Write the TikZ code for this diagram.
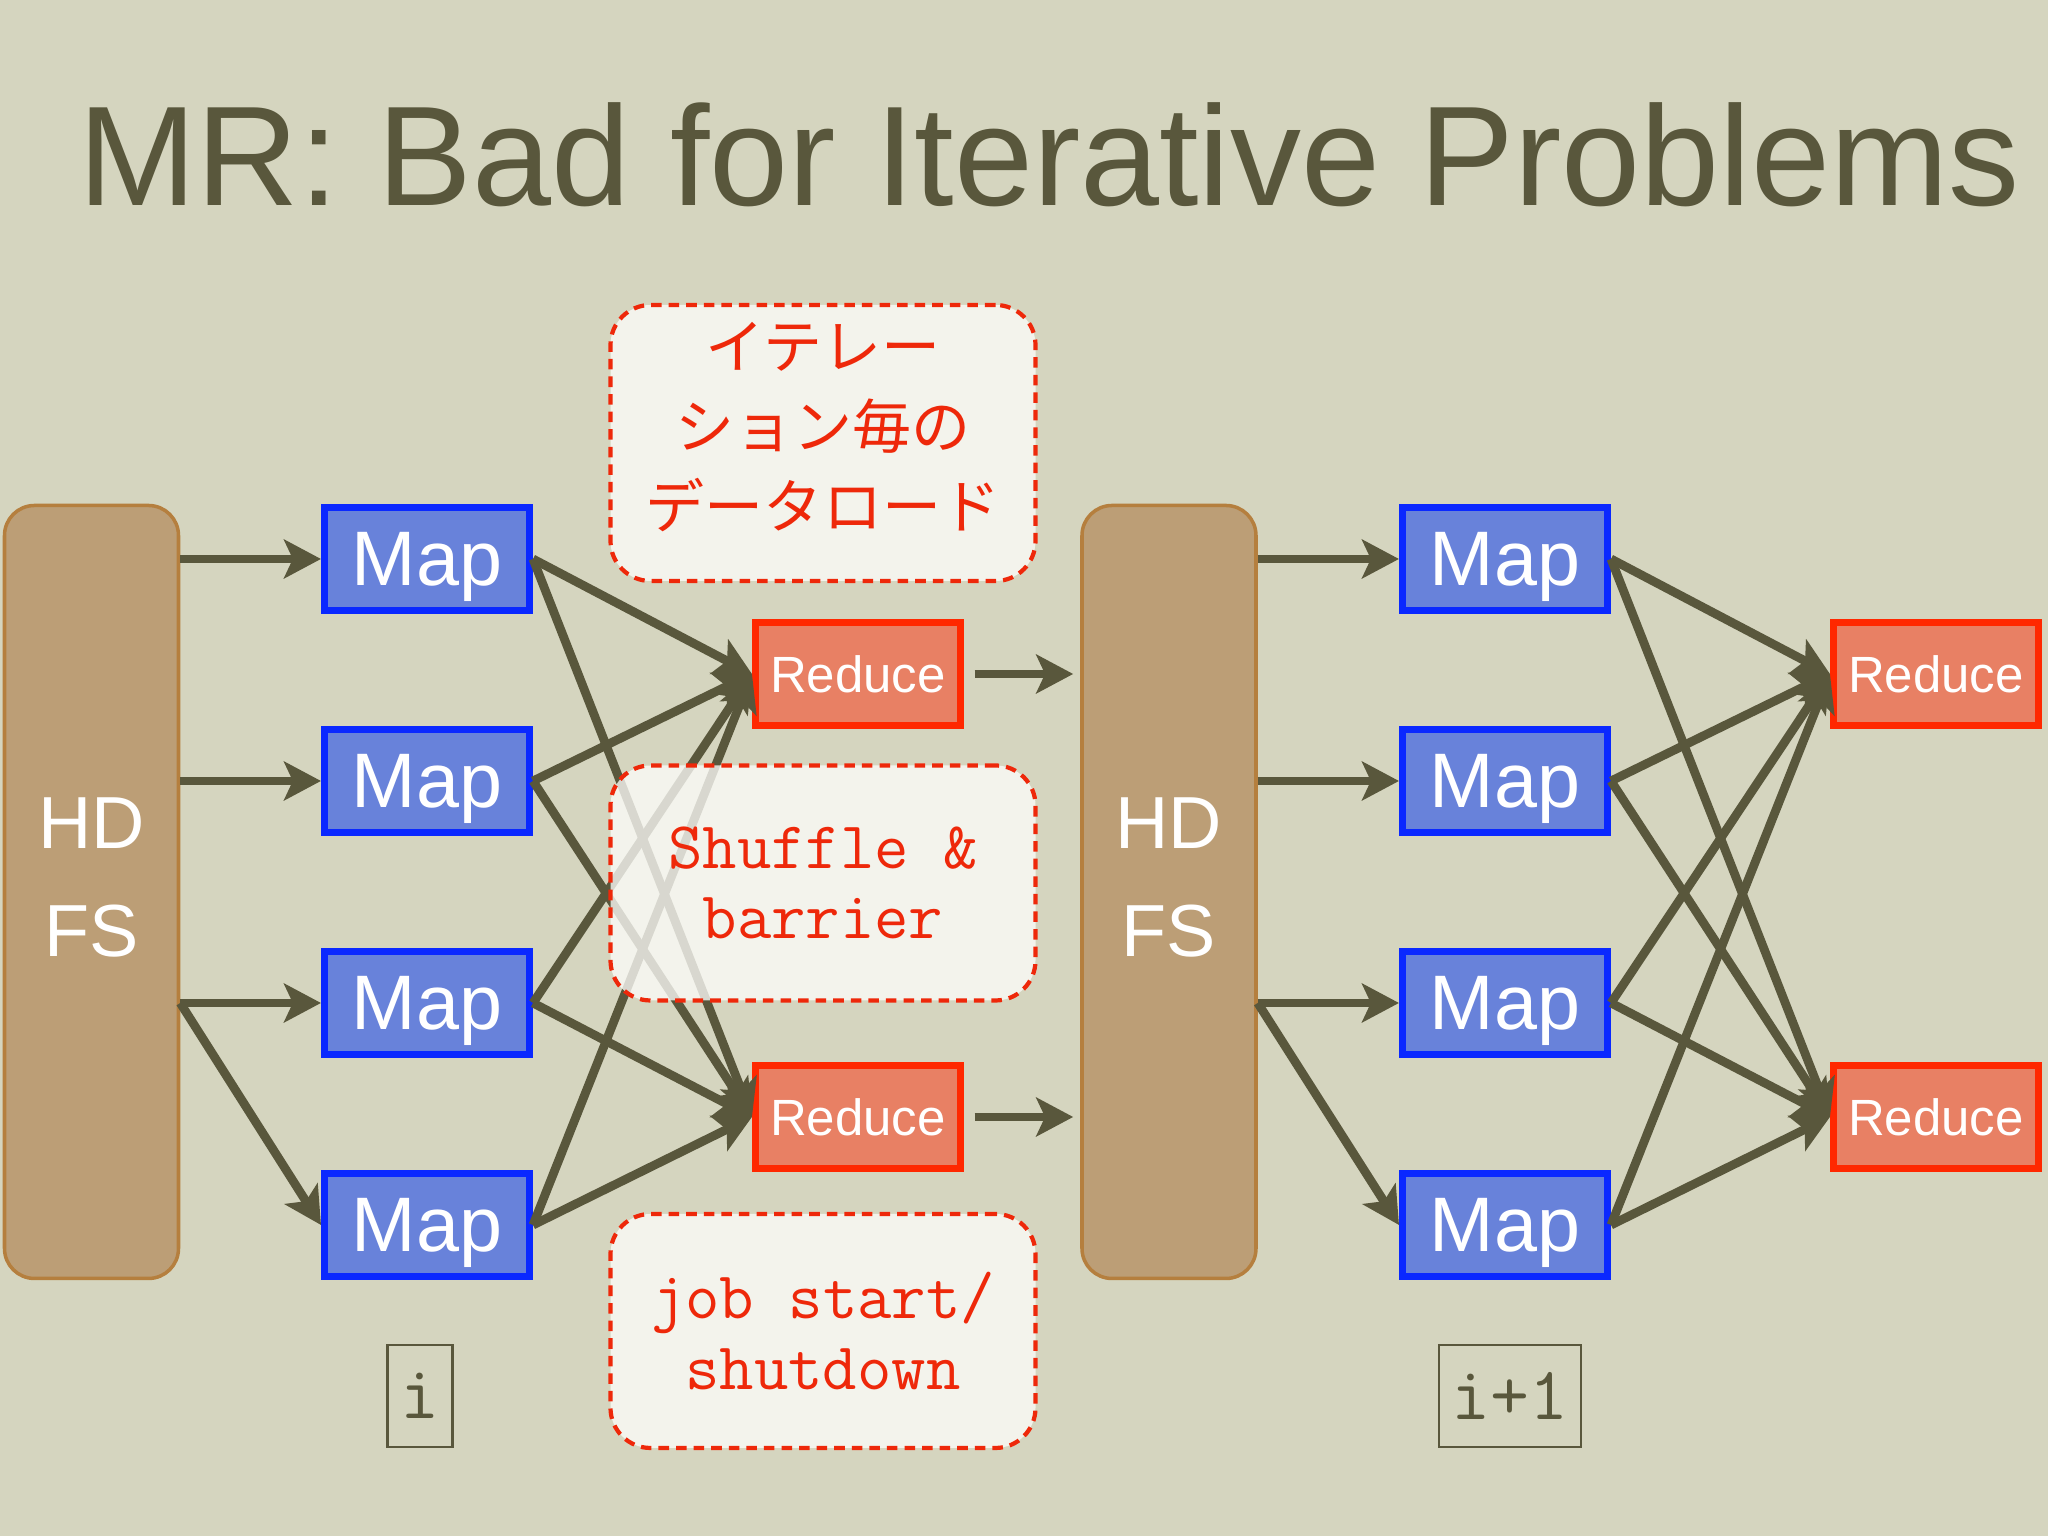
\documentclass[tikz,border=0pt]{standalone}
\usepackage{fontspec}
\setmainfont{Liberation Sans}
\newfontfamily\jpfont{Noto Sans CJK JP}
\usepackage{xcolor}
\definecolor{mrpaper}{RGB}{213, 213, 191}
\definecolor{mrolive}{RGB}{89,  87,  60}
\definecolor{mrtan}{RGB}{188, 158, 118}
\definecolor{mrtan-dark}{RGB}{181, 127, 62}
\definecolor{mrblue}{RGB}{104, 130, 218}
\definecolor{mrblue-dark}{RGB}{10,  40,  255}
\definecolor{mrsalmon}{RGB}{232, 128, 100}
\definecolor{mrred}{RGB}{255, 40,  0}
\definecolor{mrnote}{RGB}{252, 252, 249}
\definecolor{mrnote-red}{RGB}{238, 40,  10}
\usetikzlibrary{arrows.meta}
\tikzset{
  % --- BOXES ---
  hdfs-box/.style={
    fill=mrtan,
    draw=mrtan-dark,
    line width=1pt,
    rounded corners=0.3cm,
    minimum width=1.74cm,
    minimum height=7.73cm,
    text=white,
    font=\fontsize{21}{30.7}\selectfont,
    align=center,
    text depth=0.3cm,
    inner sep=0pt
  },
  map-box/.style={
    fill=mrblue,
    draw=mrblue-dark,
    line width=2pt,
    minimum width=2.05cm,
    minimum height=1.03cm,
    text=white,
    font=\fontsize{22}{26}\selectfont,
    text depth=0pt,
    inner sep=0pt
  },
  reduce-box/.style={
    map-box,
    fill=mrsalmon,
    draw=mrred,
    font=\fontsize{14.5}{17}\selectfont
  },
  % --- NOTES ---
  note-box/.style={
    fill=mrnote,
    fill opacity=0.78,
    text opacity=1,
    draw=mrnote-red,
    dash pattern=on 3pt off 2pt,
    line width=1.2pt,
    rounded corners=0.4cm,
    minimum width=4.25cm,
    text=mrnote-red,
    align=center,
    inner sep=0pt
  },
  note-jp/.style={note-box, text depth=0.35cm, font=\jpfont\fontsize{16.8}{22.7}\selectfont},
  note-tt/.style={note-box, font=\ttfamily\fontsize{19}{20}\selectfont},
  % --- LABELS ---
  iter-label/.style={
    draw=mrolive,
    line width=0.6pt,
    text=mrolive,
    font=\ttfamily\fontsize{21.5}{22}\selectfont,
    minimum height=1.02cm,
    inner xsep=0.13cm
  },
  slide-title/.style={
    text=mrolive,
    font=\fontsize{40.4}{48}\selectfont
  },
  % --- ARROWS ---
  arrw/.style={
    draw=mrolive,
    line width=2.5pt,
    -{Stealth[length=10.5pt, width=11pt, inset=2.5pt]}
  },
}
\begin{document}
\begin{tikzpicture}
  % --- paper
  \fill[mrpaper] (0,0) rectangle (20.48,15.36);
  \useasboundingbox (0,0) rectangle (20.48,15.36);
  \node[slide-title, anchor=base] (ttl) at (10.49,13.30) {MR: Bad for Iterative Problems};
  % --- iteration i
  \node[hdfs-box]   (hdfs1) at (0.915,6.44) {HD\\FS};
  \node[map-box]    (map11) at (4.27,9.77) {Map};
  \node[map-box]    (map12) at (4.27,7.55) {Map};
  \node[map-box]    (map13) at (4.27,5.33) {Map};
  \node[map-box]    (map14) at (4.27,3.11) {Map};
  \node[reduce-box] (red11) at (8.58,8.62) {Reduce};
  \node[reduce-box] (red12) at (8.58,4.19) {Reduce};
  \node[iter-label] (it1)   at (4.20,1.40) {i};
  % --- iteration i+1
  \node[hdfs-box]   (hdfs2) at (11.69,6.44) {HD\\FS};
  \node[map-box]    (map21) at (15.05,9.77) {Map};
  \node[map-box]    (map22) at (15.05,7.55) {Map};
  \node[map-box]    (map23) at (15.05,5.33) {Map};
  \node[map-box]    (map24) at (15.05,3.11) {Map};
  \node[reduce-box] (red21) at (19.36,8.62) {Reduce};
  \node[reduce-box] (red22) at (19.36,4.19) {Reduce};
  \node[iter-label] (it2)   at (15.10,1.40) {i+1};
  % --- arrows, iteration i
  \draw[arrw] (hdfs1.east |- map11) -- (map11.west);
  \draw[arrw] (hdfs1.east |- map12) -- (map12.west);
  \draw[arrw] (hdfs1.east |- map13) -- (map13.west);
  \draw[arrw] (hdfs1.east |- map13) -- (map14.west);
  \draw[arrw] (map11.east) -- (red11.west);
  \draw[arrw] (map11.east) -- (red12.west);
  \draw[arrw] (map12.east) -- (red11.west);
  \draw[arrw] (map12.east) -- (red12.west);
  \draw[arrw] (map13.east) -- (red11.west);
  \draw[arrw] (map13.east) -- (red12.west);
  \draw[arrw] (map14.east) -- (red11.west);
  \draw[arrw] (map14.east) -- (red12.west);
  \draw[arrw, shorten <=3pt, shorten >=2pt] (red11.east) -- (hdfs2.west |- red11);
  \draw[arrw, shorten <=3pt, shorten >=2pt] (red12.east) -- (hdfs2.west |- red12);
  % --- arrows, iteration i+1
  \draw[arrw] (hdfs2.east |- map21) -- (map21.west);
  \draw[arrw] (hdfs2.east |- map22) -- (map22.west);
  \draw[arrw] (hdfs2.east |- map23) -- (map23.west);
  \draw[arrw] (hdfs2.east |- map23) -- (map24.west);
  \draw[arrw] (map21.east) -- (red21.west);
  \draw[arrw] (map21.east) -- (red22.west);
  \draw[arrw] (map22.east) -- (red21.west);
  \draw[arrw] (map22.east) -- (red22.west);
  \draw[arrw] (map23.east) -- (red21.west);
  \draw[arrw] (map23.east) -- (red22.west);
  \draw[arrw] (map24.east) -- (red21.west);
  \draw[arrw] (map24.east) -- (red22.west);
  % --- overhead notes
  \node[note-jp, minimum height=2.76cm] (load) at (8.23,10.93) {イテレー\\ション毎の\\データロード};
  \node[note-tt, minimum height=2.35cm] (shuf) at (8.23,6.53) {Shuffle \&\\barrier};
  \node[note-tt, minimum height=2.34cm] (job)  at (8.23,2.05) {job start/\\shutdown};
\end{tikzpicture}
\end{document}
